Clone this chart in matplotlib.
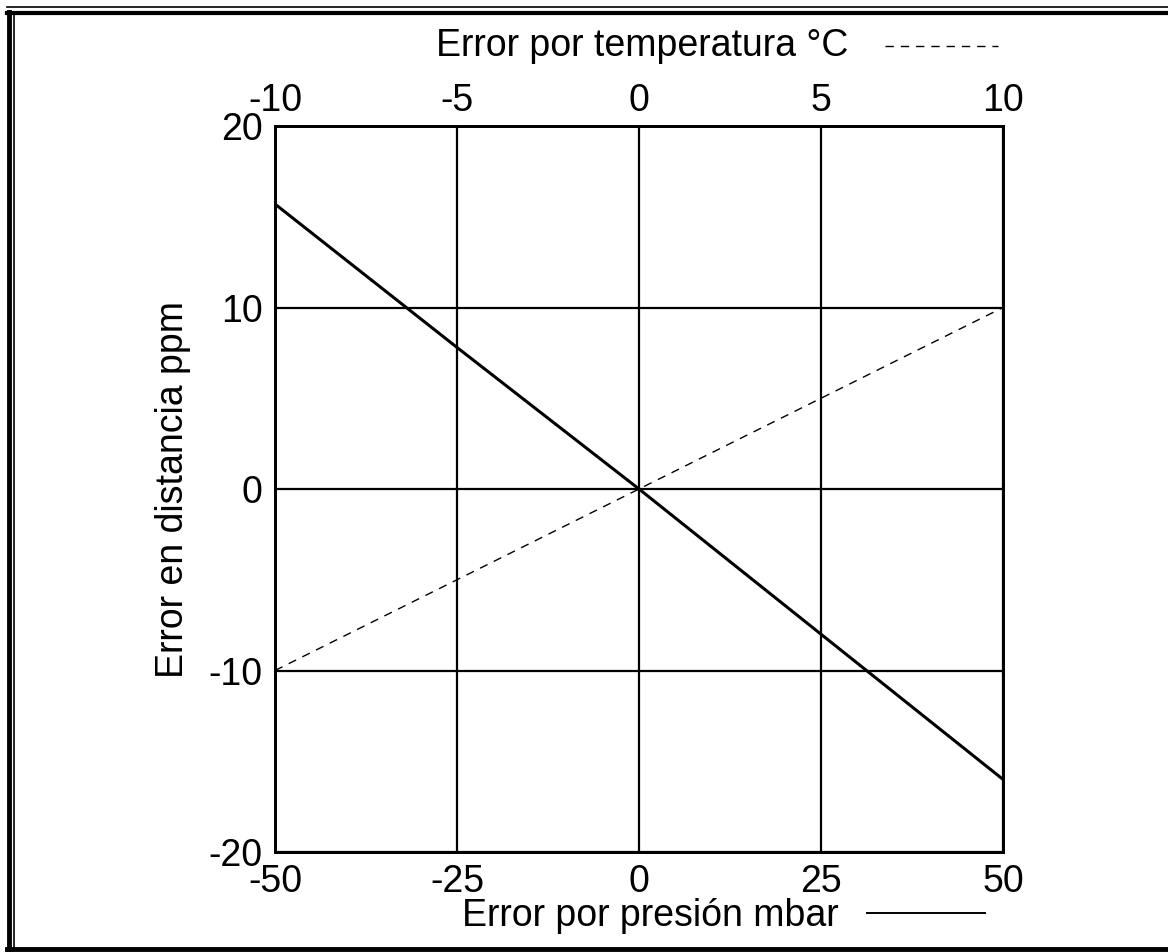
"""Error en distancia: presión y temperatura."""

import matplotlib.pyplot as plt
from matplotlib.lines import Line2D

plt.rcParams["font.family"] = ["Liberation Sans", "DejaVu Sans"]
plt.rcParams["axes.unicode_minus"] = False

# Error por presión (mbar) -> error en distancia (ppm)
pressure_mbar = [-50, -25, 0, 25, 50]
pressure_ppm = [15.7, 7.8, 0.0, -8.0, -16.0]

# Error por temperatura (°C) -> error en distancia (ppm)
temp_c = [-10, -5, 0, 5, 10]
temp_ppm = [-10.0, -5.0, 0.0, 5.0, 10.0]

x_ticks = [-50, -25, 0, 25, 50]
top_ticks = [-10, -5, 0, 5, 10]
y_ticks = [-20, -10, 0, 10, 20]

W, H = 1168, 952
fig = plt.figure(figsize=(W / 100, H / 100), dpi=100)
ax = fig.add_axes([275 / W, 1 - 852 / H, (1003 - 275) / W, (852 - 126) / H])

ax.plot(pressure_mbar, pressure_ppm, color="black", linewidth=2.2, zorder=3)
ax.set_xlim(-50, 50)
ax.set_ylim(-20, 20)
ax.set_xticks(x_ticks)
ax.set_yticks(y_ticks)
ax.grid(True, color="black", linewidth=1.6)
ax.tick_params(length=0, labelsize=27)
ax.tick_params(axis="x", pad=9)
ax.tick_params(axis="y", pad=9)
for s in ax.spines.values():
    s.set_linewidth(2.0)
ax.set_ylabel("Error en distancia ppm", fontsize=27)
ax.yaxis.label.set_va("center")
ax.yaxis.set_label_coords((173 - 275) / 728, 0.5)

ax2 = ax.twiny()
ax2.plot(temp_c, temp_ppm, color="black", linewidth=1.0,
         linestyle=(0, (6, 5)), zorder=3)
ax2.set_xlim(-10, 10)
ax2.set_xticks(top_ticks)
ax2.tick_params(length=0, labelsize=27, pad=5)
for s in ax2.spines.values():
    s.set_linewidth(2.0)

# axis titles with line-style keys
fig.text(642 / W, 1 - 46 / H, "Error por temperatura °C", fontsize=27,
         ha="center", va="center")
fig.add_artist(Line2D([885 / W, 998 / W], [1 - 46 / H, 1 - 46 / H],
                      color="black", linewidth=1.0, linestyle=(0, (6, 5))))
fig.text(650 / W, 1 - 916 / H, "Error por presión mbar", fontsize=27,
         ha="center", va="center")
fig.add_artist(Line2D([867 / W, 985 / W], [1 - 913 / H, 1 - 913 / H],
                      color="black", linewidth=1.4))

# double frame round the figure (right edge is cut off)
fig.add_artist(Line2D([8.5 / W, 8.5 / W], [1 - 12 / H, 1 - 949 / H],
                      color="black", linewidth=3.5))
fig.add_artist(Line2D([13.5 / W, 13.5 / W], [1 - 14 / H, 1 - 947 / H],
                      color="black", linewidth=1.2))
fig.add_artist(Line2D([7 / W, 1], [1 - 13 / H, 1 - 13 / H],
                      color="black", linewidth=3.0))
fig.add_artist(Line2D([7 / W, 1], [1 - 7 / H, 1 - 7 / H],
                      color="black", linewidth=1.2))
fig.add_artist(Line2D([7 / W, 1], [1 - 949 / H, 1 - 949 / H],
                      color="black", linewidth=3.5))

fig.savefig("out.png", dpi=100)
